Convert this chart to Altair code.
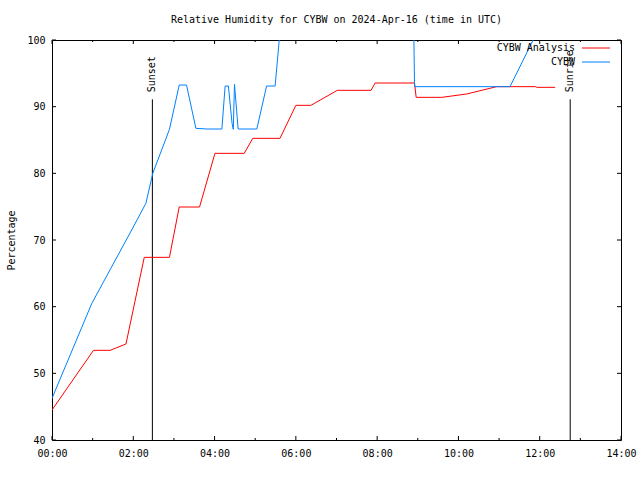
import altair as alt
import pandas as pd

# ---- data ----
analysis_t = [0.0, 1.02, 1.43, 1.82, 2.27, 2.89, 3.13, 3.63, 4.01, 4.73, 4.94, 5.61,
              6.0, 6.37, 7.02, 7.85, 7.95, 8.92, 8.96, 9.59, 10.2, 10.94, 11.9, 11.93, 12.38]
analysis_v = [44.5, 53.45, 53.45, 54.4, 67.4, 67.4, 74.95, 74.95, 83.0, 83.0, 85.25, 85.25,
              90.2, 90.2, 92.45, 92.45, 93.55, 93.55, 91.4, 91.4, 91.9, 93.0, 93.0, 92.9, 92.9]

obs_t = [0.0, 0.98, 1.96, 2.31, 2.48, 2.89, 3.13, 3.31, 3.54, 3.81, 4.18, 4.26, 4.34,
         4.43, 4.46, 4.49, 4.58, 5.04, 5.28, 5.49, 5.62, 8.90, 8.92, 11.27, 12.0]
obs_v = [46.25, 60.5, 71.5, 75.5, 80.0, 86.6, 93.25, 93.25, 86.75, 86.65, 86.65, 93.1, 93.1,
         87.5, 86.6, 93.35, 86.65, 86.65, 93.1, 93.1, 102.0, 102.0, 93.0, 93.0, 102.0]

series_names = ["CYBW Analysis", "CYBW"]
series_colors = ["#ff0000", "#0080ff"]

event_names = ["Sunset", "Sunrise"]
event_t = [2.47, 12.75]
event_top = [91.1, 91.1]

x_major = [0, 2, 4, 6, 8, 10, 12, 14]
x_minor = [1, 3, 5, 7, 9, 11, 13]
y_ticks = [40, 50, 60, 70, 80, 90, 100]

FONT = "DejaVu Sans Mono"
W, H = 569, 400

df = pd.concat([
    pd.DataFrame({"t": analysis_t, "v": analysis_v, "series": series_names[0]}),
    pd.DataFrame({"t": obs_t, "v": obs_v, "series": series_names[1]}),
], ignore_index=True)
events = pd.DataFrame({"name": event_names, "t": event_t, "top": event_top})
legend_df = pd.DataFrame({"name": series_names, "row": list(range(len(series_names)))})
xmaj_df = pd.DataFrame({"t": x_major})
xmin_df = pd.DataFrame({"t": x_minor})
ytk_df = pd.DataFrame({"v": y_ticks})

xscale = alt.Scale(domain=[0, 14], nice=False, zero=False)
yscale = alt.Scale(domain=[40, 100], nice=False, zero=False)
cscale = alt.Scale(domain=series_names, range=series_colors)

xaxis = alt.Axis(values=x_major, ticks=False, domain=False, grid=False, title=None,
                 labelExpr="(datum.value < 10 ? '0' : '') + datum.value + ':00'",
                 labelFont=FONT, labelFontSize=10, labelColor="black", labelPadding=8,
                 labelFlush=False, labelOverlap=False)
yaxis = alt.Axis(values=y_ticks, ticks=False, domain=False, grid=False, title="Percentage",
                 labelFont=FONT, labelFontSize=10, labelColor="black", labelPadding=7,
                 titleFont=FONT, titleFontSize=10, titleFontWeight="normal", titleColor="black",
                 titleX=-41, titleY=200, titleAngle=270, titleAlign="center",
                 titleBaseline="middle")

lines = alt.Chart(df).mark_line(clip=True, strokeWidth=1).encode(
    x=alt.X("t:Q", scale=xscale, axis=xaxis),
    y=alt.Y("v:Q", scale=yscale, axis=yaxis),
    color=alt.Color("series:N", scale=cscale, legend=None),
)

ev_rule = alt.Chart(events).mark_rule(color="black", strokeWidth=1).encode(
    x=alt.X("t:Q", scale=xscale),
    y=alt.Y("top:Q", scale=yscale),
    y2=alt.datum(40),
)
ev_text = alt.Chart(events).mark_text(angle=270, align="left", baseline="middle", dx=7,
                                      font=FONT, fontSize=10, color="black").encode(
    x=alt.X("t:Q", scale=xscale),
    y=alt.Y("top:Q", scale=yscale),
    text="name:N",
)

def xticks(d, size):
    bot = alt.Chart(d).mark_rule(color="black").encode(
        x=alt.X("t:Q", scale=xscale), y=alt.value(H), y2=alt.value(H - size))
    top = alt.Chart(d).mark_rule(color="black").encode(
        x=alt.X("t:Q", scale=xscale), y=alt.value(0), y2=alt.value(size))
    return [bot, top]

ytick_l = alt.Chart(ytk_df).mark_rule(color="black").encode(
    y=alt.Y("v:Q", scale=yscale), x=alt.value(0), x2=alt.value(4))
ytick_r = alt.Chart(ytk_df).mark_rule(color="black").encode(
    y=alt.Y("v:Q", scale=yscale), x=alt.value(W), x2=alt.value(W - 4))

leg_text = alt.Chart(legend_df).transform_calculate(ly="8 + 14 * datum.row").mark_text(
    align="right", baseline="middle", font=FONT, fontSize=10, color="black").encode(
    x=alt.value(523), y=alt.Y("ly:Q", scale=None), text="name:N")
leg_line = alt.Chart(legend_df).transform_calculate(ly="8 + 14 * datum.row").mark_rule(
    strokeWidth=1).encode(
    x=alt.value(530), x2=alt.value(558), y=alt.Y("ly:Q", scale=None),
    color=alt.Color("name:N", scale=cscale, legend=None))

chart = alt.layer(
    *xticks(xmaj_df, 4), *xticks(xmin_df, 2), ytick_l, ytick_r,
    ev_rule, ev_text, lines, leg_text, leg_line,
).properties(
    width=W, height=H,
    title=alt.TitleParams("Relative Humidity for CYBW on 2024-Apr-16 (time in UTC)",
                          font=FONT, fontSize=10, fontWeight="normal", anchor="middle",
                          color="black", offset=10),
    autosize=alt.AutoSizeParams(type="none"),
    padding={"left": 52, "top": 40, "right": 19, "bottom": 40},
    background="white",
).configure_view(stroke="black", strokeWidth=1)

chart.save("out.html", embed_options={"renderer": "svg", "actions": False})
